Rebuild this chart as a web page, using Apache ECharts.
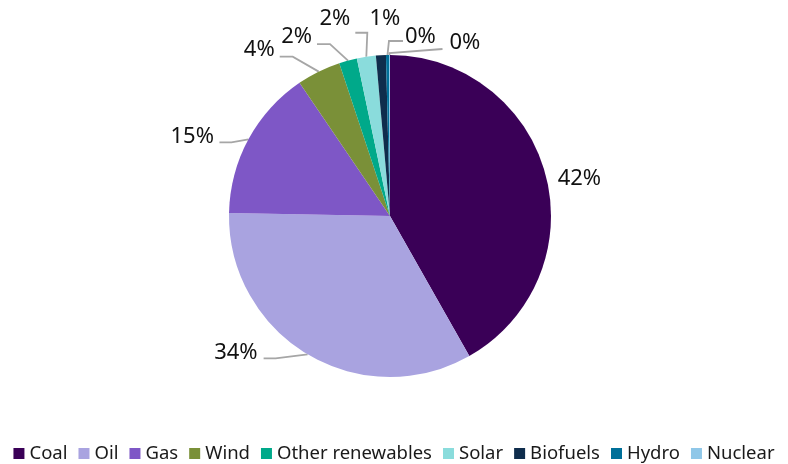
<!DOCTYPE html>
<html><head><meta charset="utf-8">
<script src="https://cdn.jsdelivr.net/npm/echarts@6/dist/echarts.min.js"></script>
<style>html,body{margin:0;padding:0;background:#fff}#c{width:788px;height:464px}</style>
</head><body><div id="c"></div>
<script>
const categories = ['Coal','Oil','Gas','Wind','Other renewables','Solar','Biofuels','Hydro','Nuclear'];
const values = [41.8, 33.5, 15.2, 4.4, 1.8, 1.9, 1.0, 0.3, 0.1];
const colors = ['#3a0057','#a9a3e0','#7e57c6','#7a9038','#00a98a','#8adcdc','#0f2d4c','#007099','#8fc7e8'];

const CX = 390, CY = 216, R = 161;
// label layout (leader line bends and text anchor, relative to slice rim midpoint)
const labelSpec = [
  {line: [], text: [12, 4], align: 'left'},
  {line: [[-32, 4], [-44, 4]], text: [-50, -2], align: 'right'},
  {line: [[-17, 3], [-29, 3]], text: [-34.5, -2.5], align: 'right'},
  {line: [[-26, -15], [-39, -15]], text: [-44, -22], align: 'right'},
  {line: [[-18, -16.5], [-31, -16.5]], text: [-36, -23.5], align: 'right'},
  {line: [[1, -24], [-11, -24]], text: [-16, -38.5], align: 'right'},
  {line: [], text: [4, -36.5], align: 'center'},
  {line: [[1.5, -14], [15.5, -14]], text: [17.5, -18.5], align: 'left'},
  {line: [[0, -2], [53, -6]], text: [60, -12.5], align: 'left'}
];
const total = values.reduce((a, b) => a + b, 0);
function rimPoint(i) {
  let cum = 0;
  for (let k = 0; k < i; k++) cum += values[k];
  const a = (cum + values[i] / 2) / total * 2 * Math.PI;
  return [CX + R * Math.sin(a), CY - R * Math.cos(a)];
}

const chart = echarts.init(document.getElementById('c'));
chart.setOption({
  animation: false,
  color: colors,
  legend: {
    top: 439, left: 'center',
    itemWidth: 11, itemHeight: 11, itemGap: 11,
    icon: 'rect',
    textStyle: {fontFamily: 'Noto Sans', fontSize: 18.5, color: '#1a1a1a'},
    data: categories
  },
  series: [{
    type: 'pie',
    center: [CX, CY], radius: R,
    startAngle: 90, clockwise: true,
    avoidLabelOverlap: false,
    label: {
      show: true, position: 'outside',
      formatter: p => Math.round(p.percent) + '%',
      fontFamily: 'Noto Sans', fontSize: 22, color: '#111111'
    },
    labelLine: {show: true, length: 10, length2: 10, lineStyle: {color: '#a6a6a6', width: 1.8}},
    labelLayout: function (params) {
      const i = params.dataIndex;
      const s = labelSpec[i];
      const p = rimPoint(i);
      const pts = [p.slice()];
      s.line.forEach(o => pts.push([p[0] + o[0], p[1] + o[1]]));
      while (pts.length < 3) pts.push(pts[pts.length - 1].slice());
      return {
        x: p[0] + s.text[0], y: p[1] + s.text[1],
        align: s.align, verticalAlign: 'middle',
        labelLinePoints: pts
      };
    },
    data: categories.map((c, i) => ({name: c, value: values[i]}))
  }]
});
</script></body></html>
